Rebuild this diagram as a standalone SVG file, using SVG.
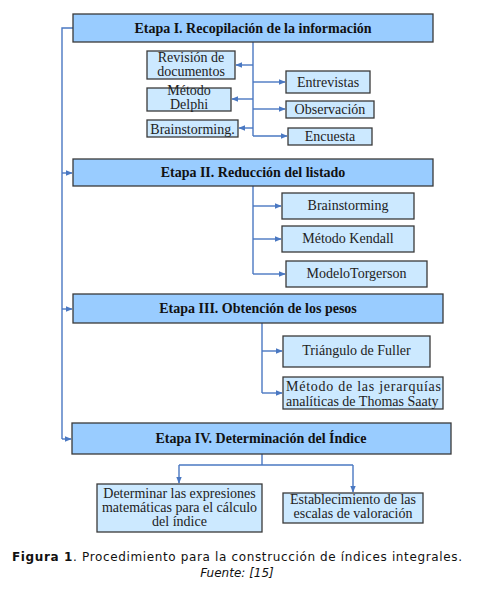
<svg xmlns="http://www.w3.org/2000/svg" width="478" height="589" viewBox="0 0 478 589">
<style>
.stage{fill:#99CCFF;stroke:#3a3a3a;stroke-width:1.3}
.sub{fill:#CCE9FF;stroke:#3a3a3a;stroke-width:1.3}
.st{font-family:"Liberation Serif","Times New Roman",serif;font-weight:bold;font-size:14px;fill:#111;text-anchor:middle}
.tx{font-family:"Liberation Serif","Times New Roman",serif;font-size:14px;fill:#222;text-anchor:middle}
.cap{font-family:"DejaVu Sans",Verdana,sans-serif;font-size:12px;fill:#111}
.ln{fill:none;stroke:#4A78C2;stroke-width:1.4}
</style>
<defs>
<marker id="ah" viewBox="0 0 10 10" refX="9" refY="5" markerWidth="5" markerHeight="5" orient="auto"><path d="M0,1 L10,5 L0,9 z" fill="#4A78C2"/></marker>
</defs>
<rect width="478" height="589" fill="#fff"/>
<g id="connectors">
<path class="ln" d="M73,28 H62 V439"/>
<path class="ln" d="M62,173 H72" marker-end="url(#ah)"/>
<path class="ln" d="M62,309 H72" marker-end="url(#ah)"/>
<path class="ln" d="M62,439 H71" marker-end="url(#ah)"/>
<path class="ln" d="M253,42 V136"/>
<path class="ln" d="M253,65 H236" marker-end="url(#ah)"/>
<path class="ln" d="M253,99 H232" marker-end="url(#ah)"/>
<path class="ln" d="M253,128 H239" marker-end="url(#ah)"/>
<path class="ln" d="M253,82 H285" marker-end="url(#ah)"/>
<path class="ln" d="M253,109 H285" marker-end="url(#ah)"/>
<path class="ln" d="M253,136 H287" marker-end="url(#ah)"/>
<path class="ln" d="M253,186 V274"/>
<path class="ln" d="M253,206 H281" marker-end="url(#ah)"/>
<path class="ln" d="M253,239 H281" marker-end="url(#ah)"/>
<path class="ln" d="M253,274 H285" marker-end="url(#ah)"/>
<path class="ln" d="M262,323 V393"/>
<path class="ln" d="M262,351 H282" marker-end="url(#ah)"/>
<path class="ln" d="M262,393 H282" marker-end="url(#ah)"/>
<path class="ln" d="M262,454 V465"/>
<path class="ln" d="M179,465 H353"/>
<path class="ln" d="M179,465 V483" marker-end="url(#ah)"/>
<path class="ln" d="M353,465 V492" marker-end="url(#ah)"/>
</g>
<g id="stage1"><rect class="stage" x="73" y="14" width="360" height="28"/><text class="st" x="253" y="32.5">Etapa I. Recopilación de la información</text></g>
<g id="revision"><rect class="sub" x="147" y="51" width="88" height="28"/><text class="tx" x="191" y="62">Revisión de</text><text class="tx" x="191" y="76">documentos</text></g>
<g id="delphi"><rect class="sub" x="147" y="88" width="84" height="23"/><text class="tx" x="189" y="95" font-size="13">Método</text><text class="tx" x="189" y="108.5" font-size="13">Delphi</text></g>
<g id="brain1"><rect class="sub" x="147" y="120" width="91" height="17"/><text class="tx" x="192.5" y="133.5">Brainstorming.</text></g>
<g id="entrevistas"><rect class="sub" x="286" y="71" width="84" height="22"/><text class="tx" x="328" y="86.5">Entrevistas</text></g>
<g id="observacion"><rect class="sub" x="286" y="101" width="88" height="17"/><text class="tx" x="330" y="113.5">Observación</text></g>
<g id="encuesta"><rect class="sub" x="288" y="128" width="84" height="17"/><text class="tx" x="330" y="140.5">Encuesta</text></g>
<g id="stage2"><rect class="stage" x="73" y="159" width="360" height="27"/><text class="st" x="253" y="177">Etapa II. Reducción del listado</text></g>
<g id="brain2"><rect class="sub" x="282" y="193" width="132" height="26"/><text class="tx" x="348" y="210">Brainstorming</text></g>
<g id="kendall"><rect class="sub" x="282" y="226" width="132" height="26"/><text class="tx" x="348" y="243">Método Kendall</text></g>
<g id="torgerson"><rect class="sub" x="286" y="261" width="141" height="26"/><text class="tx" x="356.5" y="277.5">ModeloTorgerson</text></g>
<g id="stage3"><rect class="stage" x="73" y="294" width="370" height="29"/><text class="st" x="258" y="312.5">Etapa III. Obtención de los pesos</text></g>
<g id="fuller"><rect class="sub" x="283" y="336" width="147" height="31"/><text class="tx" x="356.5" y="354.5">Triángulo de Fuller</text></g>
<g id="saaty"><rect class="sub" x="283" y="377" width="160" height="32"/><text class="tx" x="286" y="391" style="text-anchor:start" textLength="155" lengthAdjust="spacing">Método de las jerarquías</text><text class="tx" x="286" y="405.5" style="text-anchor:start">analíticas de Thomas Saaty</text></g>
<g id="stage4"><rect class="stage" x="72" y="423" width="379" height="31"/><text class="st" x="261" y="442.5">Etapa IV. Determinación del Índice</text></g>
<g id="expresiones"><rect class="sub" x="97" y="484" width="165" height="48"/><text class="tx" x="179.5" y="497.5">Determinar las expresiones</text><text class="tx" x="179.5" y="511.5">matemáticas para el cálculo</text><text class="tx" x="179.5" y="525.5">del índice</text></g>
<g id="escalas"><rect class="sub" x="283" y="493" width="140" height="30"/><text class="tx" x="353" y="503.5">Establecimiento de las</text><text class="tx" x="353" y="518">escalas de valoración</text></g>
<g id="caption">
<text class="cap" x="12" y="561" textLength="450" lengthAdjust="spacing"><tspan font-weight="bold">Figura 1</tspan>. Procedimiento para la construcción de índices integrales.</text>
<text class="cap" x="237" y="577" text-anchor="middle" font-style="italic">Fuente: [15]</text>
</g>
</svg>
